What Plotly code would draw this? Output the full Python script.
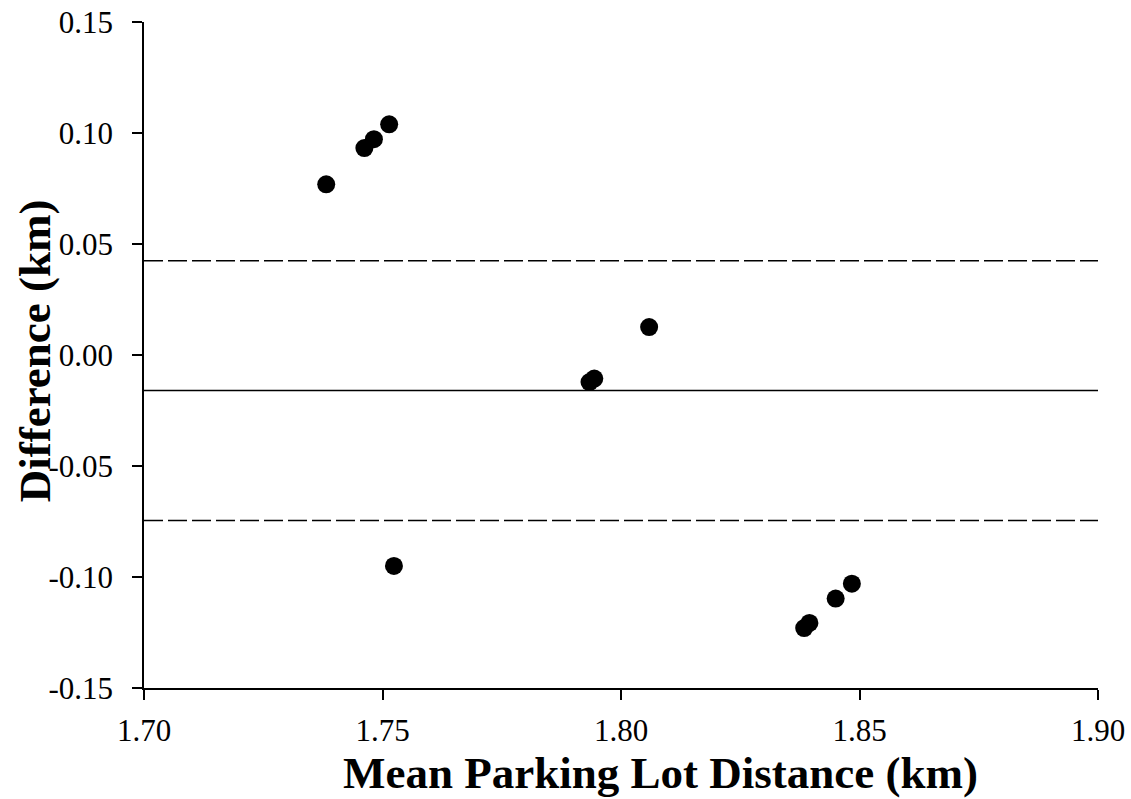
import plotly.graph_objects as go

# Data
mean_distance = [1.7382, 1.7462, 1.7482, 1.7514, 1.7524, 1.7934, 1.7944, 1.8059,
                 1.8384, 1.8395, 1.8450, 1.8484]
difference = [0.0769, 0.0932, 0.0972, 0.1039, -0.0950, -0.0122, -0.0106, 0.0126,
              -0.1230, -0.1207, -0.1097, -0.1030]
mean_diff = -0.016
upper_loa = 0.0425
lower_loa = -0.0745
x_range = [1.70, 1.90]
y_range = [-0.15, 0.15]
x_ticks = [1.70, 1.75, 1.80, 1.85, 1.90]
y_ticks = [-0.15, -0.10, -0.05, 0.00, 0.05, 0.10, 0.15]

FONT = "Liberation Serif, Times New Roman, serif"

fig = go.Figure()

fig.add_trace(go.Scatter(x=x_range, y=[upper_loa, upper_loa], mode="lines",
                         line=dict(color="black", width=1.5, dash="19px,5px"),
                         showlegend=False, hoverinfo="skip"))
fig.add_trace(go.Scatter(x=x_range, y=[mean_diff, mean_diff], mode="lines",
                         line=dict(color="black", width=1.5),
                         showlegend=False, hoverinfo="skip"))
fig.add_trace(go.Scatter(x=x_range, y=[lower_loa, lower_loa], mode="lines",
                         line=dict(color="black", width=1.5, dash="19px,5px"),
                         showlegend=False, hoverinfo="skip"))
fig.add_trace(go.Scatter(x=mean_distance, y=difference, mode="markers",
                         marker=dict(color="black", size=18, line=dict(width=0)),
                         showlegend=False))

fig.update_layout(
    width=1131, height=799,
    margin=dict(l=144, r=33, t=22, b=111),
    paper_bgcolor="white", plot_bgcolor="white",
    font=dict(family=FONT, color="black", size=31),
    xaxis=dict(range=x_range, tickvals=x_ticks, ticktext=[f"{v:.2f}" for v in x_ticks],
               showgrid=False, zeroline=False, showline=True, linecolor="black",
               linewidth=1.5, ticks="outside", ticklen=10, tickwidth=1.5,
               tickcolor="black", tickfont=dict(family=FONT, size=31),
               ticklabelstandoff=4, automargin=False, ticklabeloverflow="allow"),
    yaxis=dict(range=y_range, tickvals=y_ticks, ticktext=[f"{v:.2f}" for v in y_ticks],
               showgrid=False, zeroline=False, showline=True, linecolor="black",
               linewidth=1.5, ticks="outside", ticklen=10, tickwidth=1.5,
               tickcolor="black", tickfont=dict(family=FONT, size=31),
               ticklabelstandoff=13, automargin=False, ticklabeloverflow="allow"),
    annotations=[
        dict(text="<b>Mean Parking Lot Distance (km)</b>", xref="paper", yref="paper",
             x=0.5419, y=-0.128, xanchor="center", yanchor="middle", showarrow=False,
             font=dict(family=FONT, size=45, color="black")),
        dict(text="<b>Difference (km)</b>", xref="paper", yref="paper",
             x=-0.1143, y=0.507, xanchor="center", yanchor="middle", showarrow=False,
             textangle=-90, font=dict(family=FONT, size=45, color="black")),
    ],
)

# remove the default page margin so the figure fills the window exactly
fig.write_html("out.html", config={"displayModeBar": False},
               post_script="document.body.style.margin='0';")
